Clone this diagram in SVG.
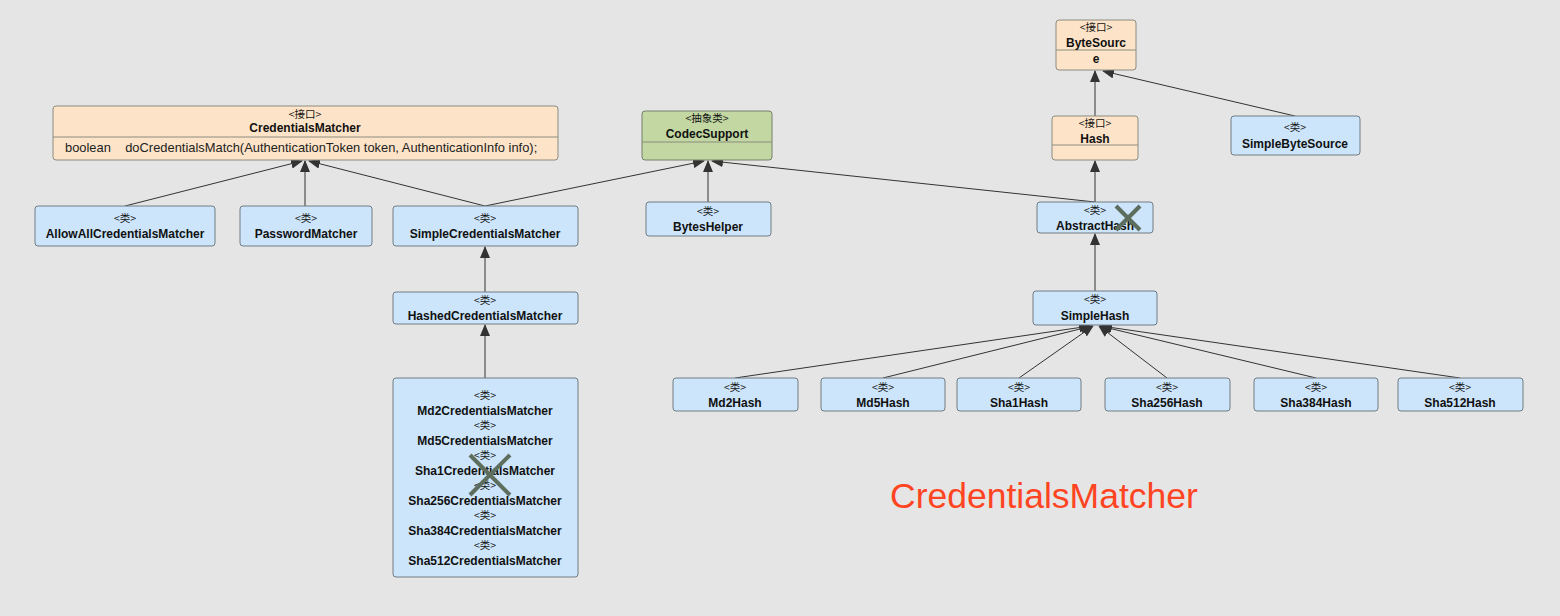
<svg xmlns="http://www.w3.org/2000/svg" width="1560" height="616" viewBox="0 0 1560 616">
<defs>
<marker id="tri" markerWidth="12" markerHeight="10" refX="11" refY="5" orient="auto" markerUnits="userSpaceOnUse">
<path d="M0,0 L12,5 L0,10 z" fill="#333"/>
</marker>
<style>
.iface{fill:#fde4c8;stroke:#8c8c80;stroke-width:1}
.cls{fill:#cce5fb;stroke:#707c84;stroke-width:1}
.abs{fill:#c2d7a2;stroke:#75806a;stroke-width:1}
.div{stroke:#8c8c80;stroke-width:1}
.t{font-family:"Liberation Sans","Noto Sans CJK SC",sans-serif;font-size:12px;font-weight:bold;fill:#111;text-anchor:middle}
.s{font-family:"Noto Sans CJK SC","Liberation Sans",sans-serif;font-size:10.5px;fill:#111;text-anchor:middle}
.m{font-family:"Liberation Sans",sans-serif;font-size:12.9px;fill:#222}
.c{stroke:#333;stroke-width:1;fill:none;marker-end:url(#tri)}
.x{stroke:#5e6e5e;stroke-width:4;stroke-linecap:butt}
</style>
</defs>
<rect width="1560" height="616" fill="#e5e5e5"/>
<g id="connectors">
<line class="c" x1="125" y1="206" x2="302" y2="161"/>
<line class="c" x1="305" y1="206" x2="305" y2="161"/>
<line class="c" x1="485" y1="206" x2="309" y2="161"/>
<line class="c" x1="485" y1="206" x2="704" y2="161"/>
<line class="c" x1="708" y1="202" x2="708" y2="161"/>
<line class="c" x1="1095" y1="202" x2="712" y2="161"/>
<line class="c" x1="1095" y1="202" x2="1095" y2="161"/>
<line class="c" x1="1095" y1="116" x2="1095" y2="71"/>
<line class="c" x1="1295" y1="116" x2="1103" y2="71"/>
<line class="c" x1="485" y1="292" x2="485" y2="247"/>
<line class="c" x1="485" y1="378" x2="485" y2="325"/>
<line class="c" x1="1095" y1="291" x2="1095" y2="234"/>
<line class="c" x1="735" y1="378" x2="1090" y2="326"/>
<line class="c" x1="883" y1="378" x2="1092" y2="326"/>
<line class="c" x1="1019" y1="378" x2="1093" y2="326"/>
<line class="c" x1="1167" y1="378" x2="1099" y2="326"/>
<line class="c" x1="1316" y1="378" x2="1100" y2="326"/>
<line class="c" x1="1460" y1="378" x2="1101" y2="326"/>
</g>
<g id="CredentialsMatcher">
<rect class="iface" x="53" y="106" width="505" height="54" rx="3"/>
<line class="div" x1="53" y1="137" x2="558" y2="137"/>
<text class="s" x="305" y="118">&lt;接口&gt;</text>
<text class="t" x="305" y="132">CredentialsMatcher</text>
<text class="m" x="65" y="152" xml:space="preserve">boolean    doCredentialsMatch(AuthenticationToken token, AuthenticationInfo info);</text>
</g>
<g id="AllowAllCredentialsMatcher">
<rect class="cls" x="35" y="206" width="180" height="40" rx="3"/>
<text class="s" x="125" y="222">&lt;类&gt;</text>
<text class="t" x="125" y="238">AllowAllCredentialsMatcher</text>
</g>
<g id="PasswordMatcher">
<rect class="cls" x="240" y="206" width="132" height="40" rx="3"/>
<text class="s" x="306" y="222">&lt;类&gt;</text>
<text class="t" x="306" y="238">PasswordMatcher</text>
</g>
<g id="SimpleCredentialsMatcher">
<rect class="cls" x="393" y="206" width="185" height="40" rx="3"/>
<text class="s" x="485" y="222">&lt;类&gt;</text>
<text class="t" x="485" y="238">SimpleCredentialsMatcher</text>
</g>
<g id="HashedCredentialsMatcher">
<rect class="cls" x="393" y="292" width="185" height="32" rx="3"/>
<text class="s" x="485" y="304">&lt;类&gt;</text>
<text class="t" x="485" y="320">HashedCredentialsMatcher</text>
</g>
<g id="HashCredentialsMatchers">
<rect class="cls" x="393" y="378" width="185" height="199" rx="3"/>
<text class="s" x="485" y="399">&lt;类&gt;</text>
<text class="t" x="485" y="415">Md2CredentialsMatcher</text>
<text class="s" x="485" y="429">&lt;类&gt;</text>
<text class="t" x="485" y="445">Md5CredentialsMatcher</text>
<text class="s" x="485" y="459">&lt;类&gt;</text>
<text class="t" x="485" y="475">Sha1CredentialsMatcher</text>
<text class="s" x="485" y="489">&lt;类&gt;</text>
<text class="t" x="485" y="505">Sha256CredentialsMatcher</text>
<text class="s" x="485" y="519">&lt;类&gt;</text>
<text class="t" x="485" y="535">Sha384CredentialsMatcher</text>
<text class="s" x="485" y="549">&lt;类&gt;</text>
<text class="t" x="485" y="565">Sha512CredentialsMatcher</text>
<line class="x" x1="470" y1="455" x2="510" y2="495"/>
<line class="x" x1="510" y1="455" x2="470" y2="495"/>
</g>
<g id="CodecSupport">
<rect class="abs" x="642" y="111" width="130" height="49" rx="3"/>
<line class="div" x1="642" y1="142" x2="772" y2="142" stroke="#75806a"/>
<text class="s" x="707" y="122">&lt;抽象类&gt;</text>
<text class="t" x="707" y="138">CodecSupport</text>
</g>
<g id="BytesHelper">
<rect class="cls" x="646" y="202" width="125" height="34" rx="3"/>
<text class="s" x="708" y="215">&lt;类&gt;</text>
<text class="t" x="708" y="231">BytesHelper</text>
</g>
<g id="ByteSource">
<rect class="iface" x="1056" y="20" width="80" height="50" rx="3"/>
<line class="div" x1="1056" y1="50" x2="1136" y2="50"/>
<text class="s" x="1096" y="31">&lt;接口&gt;</text>
<text class="t" x="1096" y="47">ByteSourc</text>
<text class="t" x="1096" y="63">e</text>
</g>
<g id="Hash">
<rect class="iface" x="1052" y="116" width="86" height="44" rx="3"/>
<line class="div" x1="1052" y1="145" x2="1138" y2="145"/>
<text class="s" x="1095" y="127">&lt;接口&gt;</text>
<text class="t" x="1095" y="143">Hash</text>
</g>
<g id="SimpleByteSource">
<rect class="cls" x="1231" y="116" width="129" height="39" rx="3"/>
<text class="s" x="1295" y="131">&lt;类&gt;</text>
<text class="t" x="1295" y="148">SimpleByteSource</text>
</g>
<g id="AbstractHash">
<rect class="cls" x="1037" y="202" width="116" height="31" rx="3"/>
<text class="s" x="1095" y="214">&lt;类&gt;</text>
<text class="t" x="1095" y="230">AbstractHash</text>
<line class="x" x1="1116" y1="206" x2="1140" y2="230"/>
<line class="x" x1="1140" y1="206" x2="1116" y2="230"/>
</g>
<g id="SimpleHash">
<rect class="cls" x="1033" y="291" width="124" height="34" rx="3"/>
<text class="s" x="1095" y="303">&lt;类&gt;</text>
<text class="t" x="1095" y="320">SimpleHash</text>
</g>
<g id="Md2Hash">
<rect class="cls" x="673" y="378" width="125" height="33" rx="3"/>
<text class="s" x="735" y="391">&lt;类&gt;</text>
<text class="t" x="735" y="407">Md2Hash</text>
</g>
<g id="Md5Hash">
<rect class="cls" x="821" y="378" width="124" height="33" rx="3"/>
<text class="s" x="883" y="391">&lt;类&gt;</text>
<text class="t" x="883" y="407">Md5Hash</text>
</g>
<g id="Sha1Hash">
<rect class="cls" x="957" y="378" width="124" height="33" rx="3"/>
<text class="s" x="1019" y="391">&lt;类&gt;</text>
<text class="t" x="1019" y="407">Sha1Hash</text>
</g>
<g id="Sha256Hash">
<rect class="cls" x="1105" y="378" width="125" height="33" rx="3"/>
<text class="s" x="1167" y="391">&lt;类&gt;</text>
<text class="t" x="1167" y="407">Sha256Hash</text>
</g>
<g id="Sha384Hash">
<rect class="cls" x="1254" y="378" width="124" height="33" rx="3"/>
<text class="s" x="1316" y="391">&lt;类&gt;</text>
<text class="t" x="1316" y="407">Sha384Hash</text>
</g>
<g id="Sha512Hash">
<rect class="cls" x="1398" y="378" width="125" height="33" rx="3"/>
<text class="s" x="1460" y="391">&lt;类&gt;</text>
<text class="t" x="1460" y="407">Sha512Hash</text>
</g>
<g id="title">
<text x="890" y="508" font-family="Liberation Sans, sans-serif" font-size="35.5" fill="#ff4422">CredentialsMatcher</text>
</g>
</svg>
